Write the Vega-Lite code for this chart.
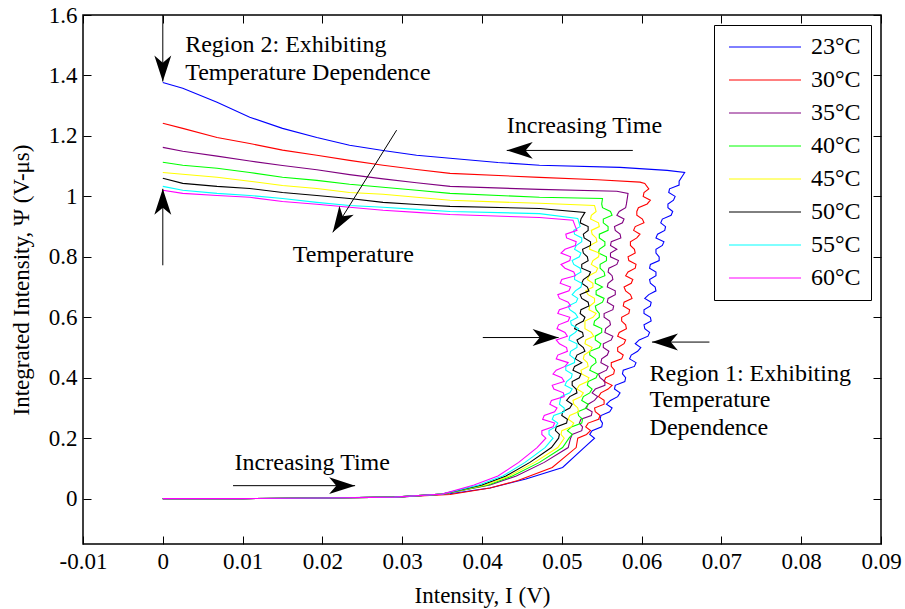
{
"$schema":"https://vega.github.io/schema/vega-lite/v6.json",
"width":798,"height":529,
"autosize":"none",
"padding":{"left":83,"top":15,"right":24,"bottom":65},
"background":"white",
"config":{"view":{"stroke":"black","strokeWidth":1.5},"font":"Liberation Serif"},
"datasets":{
"curves":[
{"t":"23°C","i":1,"x":0,"y":0},{"t":"23°C","i":2,"x":0.01,"y":0},{"t":"23°C","i":3,"x":0.02,"y":0.002},{"t":"23°C","i":4,"x":0.03,"y":0.006},{"t":"23°C","i":5,"x":0.036,"y":0.016},{"t":"23°C","i":6,"x":0.041,"y":0.035},{"t":"23°C","i":7,"x":0.0455,"y":0.065},{"t":"23°C","i":8,"x":0.0501,"y":0.103},{"t":"23°C","i":9,"x":0.0528,"y":0.169},
{"t":"23°C","i":10,"x":0.0541,"y":0.2},{"t":"23°C","i":10.5,"x":0.0535,"y":0.2125},{"t":"23°C","i":11,"x":0.0538,"y":0.225},{"t":"23°C","i":11.5,"x":0.055,"y":0.2375},{"t":"23°C","i":12,"x":0.0551,"y":0.25},{"t":"23°C","i":12.5,"x":0.0548,"y":0.2625},{"t":"23°C","i":13,"x":0.0549,"y":0.275},{"t":"23°C","i":13.5,"x":0.056,"y":0.2875},{"t":"23°C","i":14,"x":0.0563,"y":0.3},{"t":"23°C","i":14.5,"x":0.0556,"y":0.3125},{"t":"23°C","i":15,"x":0.0561,"y":0.325},{"t":"23°C","i":15.5,"x":0.057,"y":0.3375},{"t":"23°C","i":16,"x":0.0573,"y":0.35},{"t":"23°C","i":16.5,"x":0.0566,"y":0.3625},{"t":"23°C","i":17,"x":0.0567,"y":0.375},{"t":"23°C","i":17.5,"x":0.0579,"y":0.3875},{"t":"23°C","i":18,"x":0.058,"y":0.4},{"t":"23°C","i":18.5,"x":0.0576,"y":0.4125},{"t":"23°C","i":19,"x":0.0577,"y":0.425},{"t":"23°C","i":19.5,"x":0.0591,"y":0.4375},{"t":"23°C","i":20,"x":0.0593,"y":0.45},{"t":"23°C","i":20.5,"x":0.0585,"y":0.4625},{"t":"23°C","i":21,"x":0.0587,"y":0.475},{"t":"23°C","i":21.5,"x":0.0595,"y":0.4875},{"t":"23°C","i":22,"x":0.0599,"y":0.5},{"t":"23°C","i":22.5,"x":0.0592,"y":0.5125},{"t":"23°C","i":23,"x":0.0597,"y":0.525},{"t":"23°C","i":23.5,"x":0.0608,"y":0.5375},{"t":"23°C","i":24,"x":0.061,"y":0.55},{"t":"23°C","i":24.5,"x":0.0604,"y":0.5625},{"t":"23°C","i":25,"x":0.0603,"y":0.575},{"t":"23°C","i":25.5,"x":0.0612,"y":0.5875},{"t":"23°C","i":26,"x":0.0611,"y":0.6},{"t":"23°C","i":26.5,"x":0.0603,"y":0.6125},{"t":"23°C","i":27,"x":0.0603,"y":0.625},{"t":"23°C","i":27.5,"x":0.0611,"y":0.6375},{"t":"23°C","i":28,"x":0.0612,"y":0.65},{"t":"23°C","i":28.5,"x":0.0604,"y":0.6625},{"t":"23°C","i":29,"x":0.0609,"y":0.675},{"t":"23°C","i":29.5,"x":0.0618,"y":0.6875},{"t":"23°C","i":30,"x":0.0617,"y":0.7},{"t":"23°C","i":30.5,"x":0.0611,"y":0.7125},{"t":"23°C","i":31,"x":0.061,"y":0.725},{"t":"23°C","i":31.5,"x":0.0618,"y":0.7375},{"t":"23°C","i":32,"x":0.0618,"y":0.75},{"t":"23°C","i":32.5,"x":0.061,"y":0.7625},{"t":"23°C","i":33,"x":0.0611,"y":0.775},{"t":"23°C","i":33.5,"x":0.0622,"y":0.7875},{"t":"23°C","i":34,"x":0.0622,"y":0.8},{"t":"23°C","i":34.5,"x":0.0618,"y":0.8125},{"t":"23°C","i":35,"x":0.0618,"y":0.825},{"t":"23°C","i":35.5,"x":0.0626,"y":0.8375},{"t":"23°C","i":36,"x":0.0628,"y":0.85},{"t":"23°C","i":36.5,"x":0.0618,"y":0.8625},{"t":"23°C","i":37,"x":0.062,"y":0.875},{"t":"23°C","i":37.5,"x":0.0629,"y":0.8875},{"t":"23°C","i":38,"x":0.063,"y":0.9},{"t":"23°C","i":38.5,"x":0.0624,"y":0.9125},{"t":"23°C","i":39,"x":0.0626,"y":0.925},{"t":"23°C","i":39.5,"x":0.0637,"y":0.9375},{"t":"23°C","i":40,"x":0.0639,"y":0.95},{"t":"23°C","i":40.5,"x":0.0633,"y":0.9625},{"t":"23°C","i":41,"x":0.0633,"y":0.975},{"t":"23°C","i":41.5,"x":0.064,"y":0.9875},{"t":"23°C","i":42,"x":0.0642,"y":1.0},{"t":"23°C","i":42.5,"x":0.0634,"y":1.0125},{"t":"23°C","i":43,"x":0.0635,"y":1.025},{"t":"23°C","i":43.5,"x":0.0647,"y":1.0375},{"t":"23°C","i":44,"x":0.0647,"y":1.05},
{"t":"23°C","i":45,"x":0.0654,"y":1.079},{"t":"23°C","i":46,"x":0.0632,"y":1.086},{"t":"23°C","i":47,"x":0.0573,"y":1.096},{"t":"23°C","i":48,"x":0.0472,"y":1.103},{"t":"23°C","i":49,"x":0.042,"y":1.112},{"t":"23°C","i":50,"x":0.036,"y":1.126},{"t":"23°C","i":51,"x":0.0318,"y":1.136},{"t":"23°C","i":52,"x":0.0276,"y":1.152},{"t":"23°C","i":53,"x":0.0234,"y":1.169},{"t":"23°C","i":54,"x":0.0193,"y":1.195},{"t":"23°C","i":55,"x":0.015,"y":1.225},{"t":"23°C","i":56,"x":0.0109,"y":1.262},{"t":"23°C","i":57,"x":0.0068,"y":1.311},{"t":"23°C","i":58,"x":0.0025,"y":1.358},{"t":"23°C","i":59,"x":0,"y":1.377},
{"t":"30°C","i":1,"x":0,"y":0},{"t":"30°C","i":2,"x":0.01,"y":0},{"t":"30°C","i":3,"x":0.02,"y":0.002},{"t":"30°C","i":4,"x":0.029,"y":0.005},{"t":"30°C","i":5,"x":0.036,"y":0.014},{"t":"30°C","i":6,"x":0.041,"y":0.035},{"t":"30°C","i":7,"x":0.0445,"y":0.06},{"t":"30°C","i":8,"x":0.0488,"y":0.103},{"t":"30°C","i":9,"x":0.0518,"y":0.169},
{"t":"30°C","i":10,"x":0.052,"y":0.2},{"t":"30°C","i":10.5,"x":0.0531,"y":0.2125},{"t":"30°C","i":11,"x":0.0536,"y":0.225},{"t":"30°C","i":11.5,"x":0.053,"y":0.2375},{"t":"30°C","i":12,"x":0.0533,"y":0.25},{"t":"30°C","i":12.5,"x":0.0546,"y":0.2625},{"t":"30°C","i":13,"x":0.0548,"y":0.275},{"t":"30°C","i":13.5,"x":0.0542,"y":0.2875},{"t":"30°C","i":14,"x":0.0541,"y":0.3},{"t":"30°C","i":14.5,"x":0.0553,"y":0.3125},{"t":"30°C","i":15,"x":0.0553,"y":0.325},{"t":"30°C","i":15.5,"x":0.0546,"y":0.3375},{"t":"30°C","i":16,"x":0.0549,"y":0.35},{"t":"30°C","i":16.5,"x":0.0558,"y":0.3625},{"t":"30°C","i":17,"x":0.0563,"y":0.375},{"t":"30°C","i":17.5,"x":0.0553,"y":0.3875},{"t":"30°C","i":18,"x":0.0555,"y":0.4},{"t":"30°C","i":18.5,"x":0.0565,"y":0.4125},{"t":"30°C","i":19,"x":0.0566,"y":0.425},{"t":"30°C","i":19.5,"x":0.0562,"y":0.4375},{"t":"30°C","i":20,"x":0.0562,"y":0.45},{"t":"30°C","i":20.5,"x":0.0575,"y":0.4625},{"t":"30°C","i":21,"x":0.0577,"y":0.475},{"t":"30°C","i":21.5,"x":0.057,"y":0.4875},{"t":"30°C","i":22,"x":0.057,"y":0.5},{"t":"30°C","i":22.5,"x":0.0578,"y":0.5125},{"t":"30°C","i":23,"x":0.058,"y":0.525},{"t":"30°C","i":23.5,"x":0.057,"y":0.5375},{"t":"30°C","i":24,"x":0.0572,"y":0.55},{"t":"30°C","i":24.5,"x":0.0581,"y":0.5625},{"t":"30°C","i":25,"x":0.058,"y":0.575},{"t":"30°C","i":25.5,"x":0.0575,"y":0.5875},{"t":"30°C","i":26,"x":0.0575,"y":0.6},{"t":"30°C","i":26.5,"x":0.0584,"y":0.6125},{"t":"30°C","i":27,"x":0.0585,"y":0.625},{"t":"30°C","i":27.5,"x":0.0577,"y":0.6375},{"t":"30°C","i":28,"x":0.0578,"y":0.65},{"t":"30°C","i":28.5,"x":0.0588,"y":0.6625},{"t":"30°C","i":29,"x":0.0586,"y":0.675},{"t":"30°C","i":29.5,"x":0.058,"y":0.6875},{"t":"30°C","i":30,"x":0.0578,"y":0.7},{"t":"30°C","i":30.5,"x":0.0587,"y":0.7125},{"t":"30°C","i":31,"x":0.0589,"y":0.725},{"t":"30°C","i":31.5,"x":0.058,"y":0.7375},{"t":"30°C","i":32,"x":0.0583,"y":0.75},{"t":"30°C","i":32.5,"x":0.0592,"y":0.7625},{"t":"30°C","i":33,"x":0.0593,"y":0.775},{"t":"30°C","i":33.5,"x":0.0584,"y":0.7875},{"t":"30°C","i":34,"x":0.0583,"y":0.8},{"t":"30°C","i":34.5,"x":0.0592,"y":0.8125},{"t":"30°C","i":35,"x":0.0591,"y":0.825},{"t":"30°C","i":35.5,"x":0.0586,"y":0.8375},{"t":"30°C","i":36,"x":0.0586,"y":0.85},{"t":"30°C","i":36.5,"x":0.0594,"y":0.8625},{"t":"30°C","i":37,"x":0.0598,"y":0.875},{"t":"30°C","i":37.5,"x":0.059,"y":0.8875},{"t":"30°C","i":38,"x":0.0592,"y":0.9},{"t":"30°C","i":38.5,"x":0.0603,"y":0.9125},{"t":"30°C","i":39,"x":0.0601,"y":0.925},{"t":"30°C","i":39.5,"x":0.0594,"y":0.9375},{"t":"30°C","i":40,"x":0.0594,"y":0.95},{"t":"30°C","i":40.5,"x":0.0596,"y":0.9625},{"t":"30°C","i":41,"x":0.0607,"y":0.975},{"t":"30°C","i":41.5,"x":0.0611,"y":0.9875},{"t":"30°C","i":42,"x":0.0602,"y":1.0},{"t":"30°C","i":42.5,"x":0.0603,"y":1.0125},{"t":"30°C","i":43,"x":0.0609,"y":1.025},
{"t":"30°C","i":44,"x":0.0604,"y":1.043},{"t":"30°C","i":45,"x":0.0598,"y":1.047},{"t":"30°C","i":46,"x":0.0545,"y":1.055},{"t":"30°C","i":47,"x":0.0472,"y":1.063},{"t":"30°C","i":48,"x":0.036,"y":1.076},{"t":"30°C","i":49,"x":0.0318,"y":1.089},{"t":"30°C","i":50,"x":0.0276,"y":1.103},{"t":"30°C","i":51,"x":0.0234,"y":1.119},{"t":"30°C","i":52,"x":0.0193,"y":1.136},{"t":"30°C","i":53,"x":0.015,"y":1.153},{"t":"30°C","i":54,"x":0.0109,"y":1.175},{"t":"30°C","i":55,"x":0.0068,"y":1.195},{"t":"30°C","i":56,"x":0.0025,"y":1.225},{"t":"30°C","i":57,"x":0,"y":1.242},
{"t":"35°C","i":1,"x":0,"y":0},{"t":"35°C","i":2,"x":0.01,"y":0},{"t":"35°C","i":3,"x":0.02,"y":0.002},{"t":"35°C","i":4,"x":0.029,"y":0.005},{"t":"35°C","i":5,"x":0.035,"y":0.015},{"t":"35°C","i":6,"x":0.041,"y":0.045},{"t":"35°C","i":7,"x":0.0443,"y":0.075},{"t":"35°C","i":8,"x":0.0478,"y":0.12},{"t":"35°C","i":9,"x":0.0508,"y":0.169},
{"t":"35°C","i":10,"x":0.0511,"y":0.2},{"t":"35°C","i":10.5,"x":0.0513,"y":0.2125},{"t":"35°C","i":11,"x":0.0525,"y":0.225},{"t":"35°C","i":11.5,"x":0.0526,"y":0.2375},{"t":"35°C","i":12,"x":0.0522,"y":0.25},{"t":"35°C","i":12.5,"x":0.0524,"y":0.2625},{"t":"35°C","i":13,"x":0.0537,"y":0.275},{"t":"35°C","i":13.5,"x":0.0538,"y":0.2875},{"t":"35°C","i":14,"x":0.053,"y":0.3},{"t":"35°C","i":14.5,"x":0.0533,"y":0.3125},{"t":"35°C","i":15,"x":0.0541,"y":0.325},{"t":"35°C","i":15.5,"x":0.0545,"y":0.3375},{"t":"35°C","i":16,"x":0.0538,"y":0.35},{"t":"35°C","i":16.5,"x":0.0542,"y":0.3625},{"t":"35°C","i":17,"x":0.0554,"y":0.375},{"t":"35°C","i":17.5,"x":0.0554,"y":0.3875},{"t":"35°C","i":18,"x":0.0548,"y":0.4},{"t":"35°C","i":18.5,"x":0.0546,"y":0.4125},{"t":"35°C","i":19,"x":0.0556,"y":0.425},{"t":"35°C","i":19.5,"x":0.0558,"y":0.4375},{"t":"35°C","i":20,"x":0.0549,"y":0.45},{"t":"35°C","i":20.5,"x":0.055,"y":0.4625},{"t":"35°C","i":21,"x":0.0557,"y":0.475},{"t":"35°C","i":21.5,"x":0.0559,"y":0.4875},{"t":"35°C","i":22,"x":0.0552,"y":0.5},{"t":"35°C","i":22.5,"x":0.0552,"y":0.5125},{"t":"35°C","i":23,"x":0.0562,"y":0.525},{"t":"35°C","i":23.5,"x":0.0564,"y":0.5375},{"t":"35°C","i":24,"x":0.0554,"y":0.55},{"t":"35°C","i":24.5,"x":0.0555,"y":0.5625},{"t":"35°C","i":25,"x":0.0561,"y":0.575},{"t":"35°C","i":25.5,"x":0.056,"y":0.5875},{"t":"35°C","i":26,"x":0.0553,"y":0.6},{"t":"35°C","i":26.5,"x":0.0553,"y":0.6125},{"t":"35°C","i":27,"x":0.0564,"y":0.625},{"t":"35°C","i":27.5,"x":0.0565,"y":0.6375},{"t":"35°C","i":28,"x":0.0557,"y":0.65},{"t":"35°C","i":28.5,"x":0.0558,"y":0.6625},{"t":"35°C","i":29,"x":0.0567,"y":0.675},{"t":"35°C","i":29.5,"x":0.0567,"y":0.6875},{"t":"35°C","i":30,"x":0.0557,"y":0.7},{"t":"35°C","i":30.5,"x":0.0558,"y":0.7125},{"t":"35°C","i":31,"x":0.0564,"y":0.725},{"t":"35°C","i":31.5,"x":0.0563,"y":0.7375},{"t":"35°C","i":32,"x":0.0558,"y":0.75},{"t":"35°C","i":32.5,"x":0.0559,"y":0.7625},{"t":"35°C","i":33,"x":0.0569,"y":0.775},{"t":"35°C","i":33.5,"x":0.0571,"y":0.7875},{"t":"35°C","i":34,"x":0.0561,"y":0.8},{"t":"35°C","i":34.5,"x":0.0561,"y":0.8125},{"t":"35°C","i":35,"x":0.0569,"y":0.825},{"t":"35°C","i":35.5,"x":0.0561,"y":0.8375},{"t":"35°C","i":36,"x":0.0562,"y":0.85},{"t":"35°C","i":36.5,"x":0.0574,"y":0.8625},{"t":"35°C","i":37,"x":0.0573,"y":0.875},{"t":"35°C","i":37.5,"x":0.0567,"y":0.8875},{"t":"35°C","i":38,"x":0.0566,"y":0.9},{"t":"35°C","i":38.5,"x":0.0576,"y":0.9125},{"t":"35°C","i":39,"x":0.0578,"y":0.925},{"t":"35°C","i":39.5,"x":0.0569,"y":0.9375},{"t":"35°C","i":40,"x":0.0572,"y":0.95},{"t":"35°C","i":40.5,"x":0.058,"y":0.9625},{"t":"35°C","i":41,"x":0.0581,"y":0.975},
{"t":"35°C","i":42,"x":0.0583,"y":1.01},{"t":"35°C","i":43,"x":0.0569,"y":1.017},{"t":"35°C","i":44,"x":0.0472,"y":1.023},{"t":"35°C","i":45,"x":0.036,"y":1.033},{"t":"35°C","i":46,"x":0.0318,"y":1.045},{"t":"35°C","i":47,"x":0.0276,"y":1.058},{"t":"35°C","i":48,"x":0.0234,"y":1.072},{"t":"35°C","i":49,"x":0.0193,"y":1.088},{"t":"35°C","i":50,"x":0.015,"y":1.102},{"t":"35°C","i":51,"x":0.0109,"y":1.117},{"t":"35°C","i":52,"x":0.0068,"y":1.133},{"t":"35°C","i":53,"x":0.0025,"y":1.149},{"t":"35°C","i":54,"x":0,"y":1.162},
{"t":"40°C","i":1,"x":0,"y":0},{"t":"40°C","i":2,"x":0.01,"y":0},{"t":"40°C","i":3,"x":0.02,"y":0.002},{"t":"40°C","i":4,"x":0.029,"y":0.005},{"t":"40°C","i":5,"x":0.035,"y":0.015},{"t":"40°C","i":6,"x":0.0408,"y":0.045},{"t":"40°C","i":7,"x":0.0438,"y":0.075},{"t":"40°C","i":8,"x":0.0472,"y":0.12},{"t":"40°C","i":9,"x":0.0501,"y":0.169},
{"t":"40°C","i":10,"x":0.0509,"y":0.2},{"t":"40°C","i":10.5,"x":0.0513,"y":0.2125},{"t":"40°C","i":11,"x":0.0507,"y":0.225},{"t":"40°C","i":11.5,"x":0.0512,"y":0.2375},{"t":"40°C","i":12,"x":0.0525,"y":0.25},{"t":"40°C","i":12.5,"x":0.0526,"y":0.2625},{"t":"40°C","i":13,"x":0.0521,"y":0.275},{"t":"40°C","i":13.5,"x":0.052,"y":0.2875},{"t":"40°C","i":14,"x":0.0531,"y":0.3},{"t":"40°C","i":14.5,"x":0.0533,"y":0.3125},{"t":"40°C","i":15,"x":0.0525,"y":0.325},{"t":"40°C","i":15.5,"x":0.0527,"y":0.3375},{"t":"40°C","i":16,"x":0.0535,"y":0.35},{"t":"40°C","i":16.5,"x":0.0538,"y":0.3625},{"t":"40°C","i":17,"x":0.0532,"y":0.375},{"t":"40°C","i":17.5,"x":0.0533,"y":0.3875},{"t":"40°C","i":18,"x":0.0543,"y":0.4},{"t":"40°C","i":18.5,"x":0.0545,"y":0.4125},{"t":"40°C","i":19,"x":0.0535,"y":0.425},{"t":"40°C","i":19.5,"x":0.0537,"y":0.4375},{"t":"40°C","i":20,"x":0.0543,"y":0.45},{"t":"40°C","i":20.5,"x":0.0542,"y":0.4625},{"t":"40°C","i":21,"x":0.0535,"y":0.475},{"t":"40°C","i":21.5,"x":0.0535,"y":0.4875},{"t":"40°C","i":22,"x":0.0547,"y":0.5},{"t":"40°C","i":22.5,"x":0.0549,"y":0.5125},{"t":"40°C","i":23,"x":0.0542,"y":0.525},{"t":"40°C","i":23.5,"x":0.0542,"y":0.5375},{"t":"40°C","i":24,"x":0.055,"y":0.55},{"t":"40°C","i":24.5,"x":0.055,"y":0.5625},{"t":"40°C","i":25,"x":0.054,"y":0.575},{"t":"40°C","i":25.5,"x":0.0541,"y":0.5875},{"t":"40°C","i":26,"x":0.0547,"y":0.6},{"t":"40°C","i":26.5,"x":0.0547,"y":0.6125},{"t":"40°C","i":27,"x":0.0543,"y":0.625},{"t":"40°C","i":27.5,"x":0.0542,"y":0.6375},{"t":"40°C","i":28,"x":0.0551,"y":0.65},{"t":"40°C","i":28.5,"x":0.0553,"y":0.6625},{"t":"40°C","i":29,"x":0.0543,"y":0.675},{"t":"40°C","i":29.5,"x":0.0543,"y":0.6875},{"t":"40°C","i":30,"x":0.0551,"y":0.7},{"t":"40°C","i":30.5,"x":0.0542,"y":0.7125},{"t":"40°C","i":31,"x":0.0542,"y":0.725},{"t":"40°C","i":31.5,"x":0.0554,"y":0.7375},{"t":"40°C","i":32,"x":0.0553,"y":0.75},{"t":"40°C","i":32.5,"x":0.0548,"y":0.7625},{"t":"40°C","i":33,"x":0.0548,"y":0.775},{"t":"40°C","i":33.5,"x":0.0556,"y":0.7875},{"t":"40°C","i":34,"x":0.0556,"y":0.8},{"t":"40°C","i":34.5,"x":0.0546,"y":0.8125},{"t":"40°C","i":35,"x":0.0547,"y":0.825},{"t":"40°C","i":35.5,"x":0.0554,"y":0.8375},{"t":"40°C","i":36,"x":0.0554,"y":0.85},{"t":"40°C","i":36.5,"x":0.0547,"y":0.8625},{"t":"40°C","i":37,"x":0.0547,"y":0.875},{"t":"40°C","i":37.5,"x":0.0558,"y":0.8875},{"t":"40°C","i":38,"x":0.0558,"y":0.9},{"t":"40°C","i":38.5,"x":0.0552,"y":0.9125},{"t":"40°C","i":39,"x":0.0552,"y":0.925},{"t":"40°C","i":39.5,"x":0.0563,"y":0.9375},{"t":"40°C","i":40,"x":0.0561,"y":0.95},{"t":"40°C","i":40.5,"x":0.0551,"y":0.9625},{"t":"40°C","i":41,"x":0.055,"y":0.975},
{"t":"40°C","i":42,"x":0.0551,"y":0.993},{"t":"40°C","i":43,"x":0.0472,"y":0.997},{"t":"40°C","i":44,"x":0.036,"y":1.01},{"t":"40°C","i":45,"x":0.0318,"y":1.02},{"t":"40°C","i":46,"x":0.0276,"y":1.03},{"t":"40°C","i":47,"x":0.0234,"y":1.04},{"t":"40°C","i":48,"x":0.0193,"y":1.053},{"t":"40°C","i":49,"x":0.015,"y":1.063},{"t":"40°C","i":50,"x":0.0109,"y":1.079},{"t":"40°C","i":51,"x":0.0068,"y":1.093},{"t":"40°C","i":52,"x":0.0025,"y":1.103},{"t":"40°C","i":53,"x":0,"y":1.113},
{"t":"45°C","i":1,"x":0,"y":0},{"t":"45°C","i":2,"x":0.01,"y":0},{"t":"45°C","i":3,"x":0.02,"y":0.002},{"t":"45°C","i":4,"x":0.029,"y":0.005},{"t":"45°C","i":5,"x":0.035,"y":0.015},{"t":"45°C","i":6,"x":0.0404,"y":0.045},{"t":"45°C","i":7,"x":0.0434,"y":0.075},{"t":"45°C","i":8,"x":0.0466,"y":0.12},{"t":"45°C","i":9,"x":0.0495,"y":0.169},
{"t":"45°C","i":10,"x":0.0503,"y":0.2},{"t":"45°C","i":10.5,"x":0.0499,"y":0.2125},{"t":"45°C","i":11,"x":0.05,"y":0.225},{"t":"45°C","i":11.5,"x":0.0512,"y":0.2375},{"t":"45°C","i":12,"x":0.0515,"y":0.25},{"t":"45°C","i":12.5,"x":0.0508,"y":0.2625},{"t":"45°C","i":13,"x":0.051,"y":0.275},{"t":"45°C","i":13.5,"x":0.0521,"y":0.2875},{"t":"45°C","i":14,"x":0.052,"y":0.3},{"t":"45°C","i":14.5,"x":0.0515,"y":0.3125},{"t":"45°C","i":15,"x":0.0514,"y":0.325},{"t":"45°C","i":15.5,"x":0.0524,"y":0.3375},{"t":"45°C","i":16,"x":0.0527,"y":0.35},{"t":"45°C","i":16.5,"x":0.0519,"y":0.3625},{"t":"45°C","i":17,"x":0.0522,"y":0.375},{"t":"45°C","i":17.5,"x":0.0532,"y":0.3875},{"t":"45°C","i":18,"x":0.0534,"y":0.4},{"t":"45°C","i":18.5,"x":0.0525,"y":0.4125},{"t":"45°C","i":19,"x":0.0524,"y":0.425},{"t":"45°C","i":19.5,"x":0.0533,"y":0.4375},{"t":"45°C","i":20,"x":0.0532,"y":0.45},{"t":"45°C","i":20.5,"x":0.0527,"y":0.4625},{"t":"45°C","i":21,"x":0.0528,"y":0.475},{"t":"45°C","i":21.5,"x":0.0535,"y":0.4875},{"t":"45°C","i":22,"x":0.0538,"y":0.5},{"t":"45°C","i":22.5,"x":0.0529,"y":0.5125},{"t":"45°C","i":23,"x":0.053,"y":0.525},{"t":"45°C","i":23.5,"x":0.054,"y":0.5375},{"t":"45°C","i":24,"x":0.0537,"y":0.55},{"t":"45°C","i":24.5,"x":0.0529,"y":0.5625},{"t":"45°C","i":25,"x":0.0529,"y":0.575},{"t":"45°C","i":25.5,"x":0.0529,"y":0.5875},{"t":"45°C","i":26,"x":0.0539,"y":0.6},{"t":"45°C","i":26.5,"x":0.0543,"y":0.6125},{"t":"45°C","i":27,"x":0.0534,"y":0.625},{"t":"45°C","i":27.5,"x":0.0535,"y":0.6375},{"t":"45°C","i":28,"x":0.0541,"y":0.65},{"t":"45°C","i":28.5,"x":0.0541,"y":0.6625},{"t":"45°C","i":29,"x":0.0533,"y":0.675},{"t":"45°C","i":29.5,"x":0.053,"y":0.6875},{"t":"45°C","i":30,"x":0.0539,"y":0.7},{"t":"45°C","i":30.5,"x":0.0539,"y":0.7125},{"t":"45°C","i":31,"x":0.0532,"y":0.725},{"t":"45°C","i":31.5,"x":0.0534,"y":0.7375},{"t":"45°C","i":32,"x":0.0543,"y":0.75},{"t":"45°C","i":32.5,"x":0.0545,"y":0.7625},{"t":"45°C","i":33,"x":0.0537,"y":0.775},{"t":"45°C","i":33.5,"x":0.0539,"y":0.7875},{"t":"45°C","i":34,"x":0.0546,"y":0.8},{"t":"45°C","i":34.5,"x":0.0547,"y":0.8125},{"t":"45°C","i":35,"x":0.0535,"y":0.825},{"t":"45°C","i":35.5,"x":0.0535,"y":0.8375},{"t":"45°C","i":36,"x":0.0544,"y":0.85},{"t":"45°C","i":36.5,"x":0.0543,"y":0.8625},{"t":"45°C","i":37,"x":0.0538,"y":0.875},{"t":"45°C","i":37.5,"x":0.0537,"y":0.8875},{"t":"45°C","i":38,"x":0.0547,"y":0.9},{"t":"45°C","i":38.5,"x":0.0546,"y":0.9125},{"t":"45°C","i":39,"x":0.0536,"y":0.925},{"t":"45°C","i":39.5,"x":0.0537,"y":0.9375},{"t":"45°C","i":40,"x":0.0543,"y":0.95},
{"t":"45°C","i":41,"x":0.0541,"y":0.97},{"t":"45°C","i":42,"x":0.0472,"y":0.977},{"t":"45°C","i":43,"x":0.036,"y":0.987},{"t":"45°C","i":44,"x":0.0318,"y":0.997},{"t":"45°C","i":45,"x":0.0276,"y":1.007},{"t":"45°C","i":46,"x":0.0234,"y":1.013},{"t":"45°C","i":47,"x":0.0193,"y":1.026},{"t":"45°C","i":48,"x":0.015,"y":1.036},{"t":"45°C","i":49,"x":0.0109,"y":1.05},{"t":"45°C","i":50,"x":0.0068,"y":1.063},{"t":"45°C","i":51,"x":0.0025,"y":1.073},{"t":"45°C","i":52,"x":0,"y":1.079},
{"t":"50°C","i":1,"x":0,"y":0},{"t":"50°C","i":2,"x":0.01,"y":0},{"t":"50°C","i":3,"x":0.02,"y":0.002},{"t":"50°C","i":4,"x":0.029,"y":0.005},{"t":"50°C","i":5,"x":0.035,"y":0.015},{"t":"50°C","i":6,"x":0.04,"y":0.045},{"t":"50°C","i":7,"x":0.043,"y":0.075},{"t":"50°C","i":8,"x":0.046,"y":0.12},{"t":"50°C","i":9,"x":0.0487,"y":0.169},
{"t":"50°C","i":10,"x":0.0496,"y":0.2},{"t":"50°C","i":10.5,"x":0.0497,"y":0.2125},{"t":"50°C","i":11,"x":0.0492,"y":0.225},{"t":"50°C","i":11.5,"x":0.0493,"y":0.2375},{"t":"50°C","i":12,"x":0.0506,"y":0.25},{"t":"50°C","i":12.5,"x":0.0507,"y":0.2625},{"t":"50°C","i":13,"x":0.05,"y":0.275},{"t":"50°C","i":13.5,"x":0.0501,"y":0.2875},{"t":"50°C","i":14,"x":0.051,"y":0.3},{"t":"50°C","i":14.5,"x":0.0513,"y":0.3125},{"t":"50°C","i":15,"x":0.0506,"y":0.325},{"t":"50°C","i":15.5,"x":0.051,"y":0.3375},{"t":"50°C","i":16,"x":0.0519,"y":0.35},{"t":"50°C","i":16.5,"x":0.0518,"y":0.3625},{"t":"50°C","i":17,"x":0.0513,"y":0.375},{"t":"50°C","i":17.5,"x":0.0513,"y":0.3875},{"t":"50°C","i":18,"x":0.0522,"y":0.4},{"t":"50°C","i":18.5,"x":0.0524,"y":0.4125},{"t":"50°C","i":19,"x":0.0514,"y":0.425},{"t":"50°C","i":19.5,"x":0.0516,"y":0.4375},{"t":"50°C","i":20,"x":0.0525,"y":0.45},{"t":"50°C","i":20.5,"x":0.0517,"y":0.4625},{"t":"50°C","i":21,"x":0.0519,"y":0.475},{"t":"50°C","i":21.5,"x":0.0529,"y":0.4875},{"t":"50°C","i":22,"x":0.0527,"y":0.5},{"t":"50°C","i":22.5,"x":0.0521,"y":0.5125},{"t":"50°C","i":23,"x":0.0519,"y":0.525},{"t":"50°C","i":23.5,"x":0.0527,"y":0.5375},{"t":"50°C","i":24,"x":0.0526,"y":0.55},{"t":"50°C","i":24.5,"x":0.0516,"y":0.5625},{"t":"50°C","i":25,"x":0.0518,"y":0.575},{"t":"50°C","i":25.5,"x":0.0527,"y":0.5875},{"t":"50°C","i":26,"x":0.0529,"y":0.6},{"t":"50°C","i":26.5,"x":0.0523,"y":0.6125},{"t":"50°C","i":27,"x":0.0524,"y":0.625},{"t":"50°C","i":27.5,"x":0.0534,"y":0.6375},{"t":"50°C","i":28,"x":0.0533,"y":0.65},{"t":"50°C","i":28.5,"x":0.0525,"y":0.6625},{"t":"50°C","i":29,"x":0.0523,"y":0.675},{"t":"50°C","i":29.5,"x":0.0534,"y":0.6875},{"t":"50°C","i":30,"x":0.0532,"y":0.7},{"t":"50°C","i":30.5,"x":0.0525,"y":0.7125},{"t":"50°C","i":31,"x":0.0527,"y":0.725},{"t":"50°C","i":31.5,"x":0.0534,"y":0.7375},{"t":"50°C","i":32,"x":0.0536,"y":0.75},{"t":"50°C","i":32.5,"x":0.0525,"y":0.7625},{"t":"50°C","i":33,"x":0.0525,"y":0.775},{"t":"50°C","i":33.5,"x":0.0533,"y":0.7875},{"t":"50°C","i":34,"x":0.0532,"y":0.8},{"t":"50°C","i":34.5,"x":0.0527,"y":0.8125},{"t":"50°C","i":35,"x":0.0526,"y":0.825},{"t":"50°C","i":35.5,"x":0.0536,"y":0.8375},{"t":"50°C","i":36,"x":0.0536,"y":0.85},{"t":"50°C","i":36.5,"x":0.0528,"y":0.8625},{"t":"50°C","i":37,"x":0.0527,"y":0.875},{"t":"50°C","i":37.5,"x":0.0533,"y":0.8875},{"t":"50°C","i":38,"x":0.0533,"y":0.9},{"t":"50°C","i":38.5,"x":0.0523,"y":0.9125},{"t":"50°C","i":39,"x":0.0524,"y":0.925},
{"t":"50°C","i":40,"x":0.0529,"y":0.947},{"t":"50°C","i":41,"x":0.0472,"y":0.96},{"t":"50°C","i":42,"x":0.036,"y":0.967},{"t":"50°C","i":43,"x":0.0318,"y":0.973},{"t":"50°C","i":44,"x":0.0276,"y":0.98},{"t":"50°C","i":45,"x":0.0234,"y":0.993},{"t":"50°C","i":46,"x":0.0193,"y":1.003},{"t":"50°C","i":47,"x":0.015,"y":1.013},{"t":"50°C","i":48,"x":0.0109,"y":1.026},{"t":"50°C","i":49,"x":0.0068,"y":1.033},{"t":"50°C","i":50,"x":0.0025,"y":1.043},{"t":"50°C","i":51,"x":0,"y":1.06},
{"t":"55°C","i":1,"x":0,"y":0},{"t":"55°C","i":2,"x":0.01,"y":0},{"t":"55°C","i":3,"x":0.02,"y":0.002},{"t":"55°C","i":4,"x":0.029,"y":0.005},{"t":"55°C","i":5,"x":0.035,"y":0.015},{"t":"55°C","i":6,"x":0.0396,"y":0.045},{"t":"55°C","i":7,"x":0.0426,"y":0.075},{"t":"55°C","i":8,"x":0.0454,"y":0.12},{"t":"55°C","i":9,"x":0.0479,"y":0.169},
{"t":"55°C","i":10,"x":0.0489,"y":0.2},{"t":"55°C","i":10.5,"x":0.0484,"y":0.2125},{"t":"55°C","i":11,"x":0.0484,"y":0.225},{"t":"55°C","i":11.5,"x":0.0492,"y":0.2375},{"t":"55°C","i":12,"x":0.0495,"y":0.25},{"t":"55°C","i":12.5,"x":0.0488,"y":0.2625},{"t":"55°C","i":13,"x":0.049,"y":0.275},{"t":"55°C","i":13.5,"x":0.0503,"y":0.2875},{"t":"55°C","i":14,"x":0.0503,"y":0.3},{"t":"55°C","i":14.5,"x":0.0497,"y":0.3125},{"t":"55°C","i":15,"x":0.0498,"y":0.325},{"t":"55°C","i":15.5,"x":0.0499,"y":0.3375},{"t":"55°C","i":16,"x":0.051,"y":0.35},{"t":"55°C","i":16.5,"x":0.0513,"y":0.3625},{"t":"55°C","i":17,"x":0.0504,"y":0.375},{"t":"55°C","i":17.5,"x":0.0506,"y":0.3875},{"t":"55°C","i":18,"x":0.0512,"y":0.4},{"t":"55°C","i":18.5,"x":0.0513,"y":0.4125},{"t":"55°C","i":19,"x":0.0505,"y":0.425},{"t":"55°C","i":19.5,"x":0.0505,"y":0.4375},{"t":"55°C","i":20,"x":0.0516,"y":0.45},{"t":"55°C","i":20.5,"x":0.0516,"y":0.4625},{"t":"55°C","i":21,"x":0.051,"y":0.475},{"t":"55°C","i":21.5,"x":0.0511,"y":0.4875},{"t":"55°C","i":22,"x":0.0519,"y":0.5},{"t":"55°C","i":22.5,"x":0.0519,"y":0.5125},{"t":"55°C","i":23,"x":0.0509,"y":0.525},{"t":"55°C","i":23.5,"x":0.051,"y":0.5375},{"t":"55°C","i":24,"x":0.0517,"y":0.55},{"t":"55°C","i":24.5,"x":0.0521,"y":0.5625},{"t":"55°C","i":25,"x":0.0512,"y":0.575},{"t":"55°C","i":25.5,"x":0.0511,"y":0.5875},{"t":"55°C","i":26,"x":0.052,"y":0.6},{"t":"55°C","i":26.5,"x":0.0517,"y":0.6125},{"t":"55°C","i":27,"x":0.051,"y":0.625},{"t":"55°C","i":27.5,"x":0.0508,"y":0.6375},{"t":"55°C","i":28,"x":0.0518,"y":0.65},{"t":"55°C","i":28.5,"x":0.052,"y":0.6625},{"t":"55°C","i":29,"x":0.0513,"y":0.675},{"t":"55°C","i":29.5,"x":0.0517,"y":0.6875},{"t":"55°C","i":30,"x":0.0524,"y":0.7},{"t":"55°C","i":30.5,"x":0.0525,"y":0.7125},{"t":"55°C","i":31,"x":0.0516,"y":0.725},{"t":"55°C","i":31.5,"x":0.0516,"y":0.7375},{"t":"55°C","i":32,"x":0.0524,"y":0.75},{"t":"55°C","i":32.5,"x":0.0523,"y":0.7625},{"t":"55°C","i":33,"x":0.0515,"y":0.775},{"t":"55°C","i":33.5,"x":0.0513,"y":0.7875},{"t":"55°C","i":34,"x":0.0522,"y":0.8},{"t":"55°C","i":34.5,"x":0.0524,"y":0.8125},{"t":"55°C","i":35,"x":0.0516,"y":0.825},{"t":"55°C","i":35.5,"x":0.0518,"y":0.8375},{"t":"55°C","i":36,"x":0.0525,"y":0.85},{"t":"55°C","i":36.5,"x":0.0525,"y":0.8625},{"t":"55°C","i":37,"x":0.0516,"y":0.875},{"t":"55°C","i":37.5,"x":0.0515,"y":0.8875},{"t":"55°C","i":38,"x":0.0523,"y":0.9},
{"t":"55°C","i":39,"x":0.052,"y":0.927},{"t":"55°C","i":40,"x":0.0472,"y":0.943},{"t":"55°C","i":41,"x":0.036,"y":0.95},{"t":"55°C","i":42,"x":0.0318,"y":0.957},{"t":"55°C","i":43,"x":0.0276,"y":0.964},{"t":"55°C","i":44,"x":0.0234,"y":0.97},{"t":"55°C","i":45,"x":0.0193,"y":0.98},{"t":"55°C","i":46,"x":0.015,"y":0.993},{"t":"55°C","i":47,"x":0.0109,"y":1.003},{"t":"55°C","i":48,"x":0.0068,"y":1.01},{"t":"55°C","i":49,"x":0.0025,"y":1.02},{"t":"55°C","i":50,"x":0,"y":1.033},
{"t":"60°C","i":1,"x":0,"y":0},{"t":"60°C","i":2,"x":0.01,"y":0},{"t":"60°C","i":3,"x":0.02,"y":0.002},{"t":"60°C","i":4,"x":0.029,"y":0.005},{"t":"60°C","i":5,"x":0.035,"y":0.015},{"t":"60°C","i":6,"x":0.039,"y":0.045},{"t":"60°C","i":7,"x":0.042,"y":0.075},{"t":"60°C","i":8,"x":0.0446,"y":0.12},{"t":"60°C","i":9,"x":0.0469,"y":0.169},
{"t":"60°C","i":10,"x":0.048,"y":0.2},{"t":"60°C","i":10.5,"x":0.0475,"y":0.2125},{"t":"60°C","i":11,"x":0.0475,"y":0.225},{"t":"60°C","i":11.5,"x":0.0489,"y":0.2375},{"t":"60°C","i":12,"x":0.0491,"y":0.25},{"t":"60°C","i":12.5,"x":0.0476,"y":0.2625},{"t":"60°C","i":13,"x":0.0478,"y":0.275},{"t":"60°C","i":13.5,"x":0.0491,"y":0.2875},{"t":"60°C","i":14,"x":0.0494,"y":0.3},{"t":"60°C","i":14.5,"x":0.0485,"y":0.3125},{"t":"60°C","i":15,"x":0.0487,"y":0.325},{"t":"60°C","i":15.5,"x":0.0503,"y":0.3375},{"t":"60°C","i":16,"x":0.0502,"y":0.35},{"t":"60°C","i":16.5,"x":0.049,"y":0.3625},{"t":"60°C","i":17,"x":0.0488,"y":0.375},{"t":"60°C","i":17.5,"x":0.0503,"y":0.3875},{"t":"60°C","i":18,"x":0.05,"y":0.4},{"t":"60°C","i":18.5,"x":0.0489,"y":0.4125},{"t":"60°C","i":19,"x":0.0493,"y":0.425},{"t":"60°C","i":19.5,"x":0.0504,"y":0.4375},{"t":"60°C","i":20,"x":0.0508,"y":0.45},{"t":"60°C","i":20.5,"x":0.0493,"y":0.4625},{"t":"60°C","i":21,"x":0.0495,"y":0.475},{"t":"60°C","i":21.5,"x":0.0507,"y":0.4875},{"t":"60°C","i":22,"x":0.0506,"y":0.5},{"t":"60°C","i":22.5,"x":0.0497,"y":0.5125},{"t":"60°C","i":23,"x":0.0493,"y":0.525},{"t":"60°C","i":23.5,"x":0.0507,"y":0.5375},{"t":"60°C","i":24,"x":0.0504,"y":0.55},{"t":"60°C","i":24.5,"x":0.0494,"y":0.5625},{"t":"60°C","i":25,"x":0.0496,"y":0.575},{"t":"60°C","i":25.5,"x":0.0508,"y":0.5875},{"t":"60°C","i":26,"x":0.051,"y":0.6},{"t":"60°C","i":26.5,"x":0.0495,"y":0.6125},{"t":"60°C","i":27,"x":0.0497,"y":0.625},{"t":"60°C","i":27.5,"x":0.0511,"y":0.6375},{"t":"60°C","i":28,"x":0.0508,"y":0.65},{"t":"60°C","i":28.5,"x":0.0497,"y":0.6625},{"t":"60°C","i":29,"x":0.0495,"y":0.675},{"t":"60°C","i":29.5,"x":0.0509,"y":0.6875},{"t":"60°C","i":30,"x":0.0511,"y":0.7},{"t":"60°C","i":30.5,"x":0.0498,"y":0.7125},{"t":"60°C","i":31,"x":0.05,"y":0.725},{"t":"60°C","i":31.5,"x":0.0517,"y":0.7375},{"t":"60°C","i":32,"x":0.0515,"y":0.75},{"t":"60°C","i":32.5,"x":0.0504,"y":0.7625},{"t":"60°C","i":33,"x":0.0499,"y":0.775},{"t":"60°C","i":33.5,"x":0.051,"y":0.7875},{"t":"60°C","i":34,"x":0.0511,"y":0.8},{"t":"60°C","i":34.5,"x":0.0499,"y":0.8125},{"t":"60°C","i":35,"x":0.0504,"y":0.825},{"t":"60°C","i":35.5,"x":0.0517,"y":0.8375},{"t":"60°C","i":36,"x":0.0518,"y":0.85},{"t":"60°C","i":36.5,"x":0.0506,"y":0.8625},{"t":"60°C","i":37,"x":0.0505,"y":0.875},{"t":"60°C","i":37.5,"x":0.0519,"y":0.8875},{"t":"60°C","i":38,"x":0.0517,"y":0.9},
{"t":"60°C","i":39,"x":0.0514,"y":0.921},{"t":"60°C","i":40,"x":0.0472,"y":0.93},{"t":"60°C","i":41,"x":0.036,"y":0.94},{"t":"60°C","i":42,"x":0.0318,"y":0.947},{"t":"60°C","i":43,"x":0.0276,"y":0.954},{"t":"60°C","i":44,"x":0.0234,"y":0.964},{"t":"60°C","i":45,"x":0.0193,"y":0.974},{"t":"60°C","i":46,"x":0.015,"y":0.983},{"t":"60°C","i":47,"x":0.0109,"y":0.997},{"t":"60°C","i":48,"x":0.0068,"y":1.003},{"t":"60°C","i":49,"x":0.0025,"y":1.01},{"t":"60°C","i":50,"x":0,"y":1.02}
],
"arrows":[
{"x":0,"y":1.6,"x2":0,"y2":1.38,"dir":"down"},
{"x":0,"y":0.772,"x2":0,"y2":1.025,"dir":"up"},
{"x":0.0589,"y":1.152,"x2":0.0431,"y2":1.152,"dir":"left"},
{"x":0.0293,"y":1.219,"x2":0.0213,"y2":0.881,"dir":"diag"},
{"x":0.0401,"y":0.533,"x2":0.0496,"y2":0.533,"dir":"right"},
{"x":0.0685,"y":0.518,"x2":0.0613,"y2":0.518,"dir":"left"},
{"x":0.0088,"y":0.043,"x2":0.0241,"y2":0.043,"dir":"right"}
],
"labels":[
{"x":0.0028,"y":1.5,"text":"Region 2: Exhibiting"},
{"x":0.0028,"y":1.407,"text":"Temperature Dependence"},
{"x":0.0431,"y":1.232,"text":"Increasing Time"},
{"x":0.0163,"y":0.805,"text":"Temperature"},
{"x":0.061,"y":0.414,"text":"Region 1: Exhibiting"},
{"x":0.061,"y":0.325,"text":"Temperature"},
{"x":0.061,"y":0.235,"text":"Dependence"},
{"x":0.009,"y":0.119,"text":"Increasing Time"}
]
},
"layer":[
{"data":{"name":"curves"},
 "mark":{"type":"line","strokeWidth":1.1},
 "encoding":{
  "x":{"field":"x","type":"quantitative","scale":{"domain":[-0.01,0.09],"nice":false,"zero":false},
       "axis":{"orient":"bottom","values":[-0.01,0,0.01,0.02,0.03,0.04,0.05,0.06,0.07,0.08,0.09],"labelExpr":"replace(format(datum.value,'~g'),'\u2212','-')","domain":false,"grid":false,"tickSize":-8,"tickColor":"black","tickWidth":1,"labelPadding":14,"labelFont":"Liberation Serif","labelFontSize":23,"labelColor":"black","labelFlush":false,"labelOverlap":false,"title":"Intensity, I (V)","titleFont":"Liberation Serif","titleFontSize":23,"titleFontWeight":"normal","titleColor":"black","titlePadding":11}},
  "y":{"field":"y","type":"quantitative","scale":{"domain":[-0.15,1.6],"nice":false,"zero":false},
       "axis":{"orient":"left","values":[0,0.2,0.4,0.6,0.8,1,1.2,1.4,1.6],"labelExpr":"format(datum.value,'~g')","domain":false,"grid":false,"tickSize":-8,"tickColor":"black","tickWidth":1,"labelPadding":14,"labelFont":"Liberation Serif","labelFontSize":23,"labelColor":"black","labelFlush":false,"labelOverlap":false,"title":"Integrated Intensity,  Ψ (V-μs)","titleFont":"Liberation Serif","titleFontSize":23,"titleFontWeight":"normal","titleColor":"black","titlePadding":15}},
  "color":{"field":"t","type":"nominal","scale":{"domain":["23°C","30°C","35°C","40°C","45°C","50°C","55°C","60°C"],"range":["#0000ff","#ff0000","#800080","#00ff00","#ffff00","#000000","#00ffff","#ff00ff"]},
       "legend":{"orient":"top-right","offset":10,"title":null,"symbolType":"M-3.6,0L3.6,0","symbolSize":400,"symbolStrokeWidth":1,"symbolOffset":29,"labelOffset":34,"labelFont":"Liberation Serif","labelFontSize":24,"labelColor":"black","strokeColor":"black","fillColor":"white","padding":10,"rowPadding":9}},
  "order":{"field":"i","type":"quantitative"}
 }},
{"data":{"name":"arrows"},
 "mark":{"type":"rule","color":"black","strokeWidth":1},
 "encoding":{
  "x":{"field":"x","type":"quantitative","scale":{"domain":[-0.01,0.09],"nice":false,"zero":false},
       "axis":{"orient":"top","values":[-0.01,0,0.01,0.02,0.03,0.04,0.05,0.06,0.07,0.08,0.09],"labels":false,"domain":false,"grid":false,"tickSize":-8,"tickColor":"black","title":null}},
  "y":{"field":"y","type":"quantitative","scale":{"domain":[-0.15,1.6],"nice":false,"zero":false},
       "axis":{"orient":"right","values":[0,0.2,0.4,0.6,0.8,1,1.2,1.4,1.6],"labels":false,"domain":false,"grid":false,"tickSize":-8,"tickColor":"black","title":null}},
  "x2":{"field":"x2"},"y2":{"field":"y2"}
 }},
{"data":{"name":"arrows"},"transform":[{"filter":"datum.dir=='down'"}],
 "mark":{"type":"point","shape":"M0,0L0.65,2L0,1.45L-0.65,2Z","filled":true,"color":"black","opacity":1,"size":676,"angle":180,"strokeWidth":0},
 "encoding":{"x":{"field":"x2","type":"quantitative","scale":{"domain":[-0.01,0.09],"nice":false,"zero":false},"axis":null},"y":{"field":"y2","type":"quantitative","scale":{"domain":[-0.15,1.6],"nice":false,"zero":false},"axis":null}}},
{"data":{"name":"arrows"},"transform":[{"filter":"datum.dir=='up'"}],
 "mark":{"type":"point","shape":"M0,0L0.65,2L0,1.45L-0.65,2Z","filled":true,"color":"black","opacity":1,"size":676,"angle":0,"strokeWidth":0},
 "encoding":{"x":{"field":"x2","type":"quantitative","scale":{"domain":[-0.01,0.09],"nice":false,"zero":false},"axis":null},"y":{"field":"y2","type":"quantitative","scale":{"domain":[-0.15,1.6],"nice":false,"zero":false},"axis":null}}},
{"data":{"name":"arrows"},"transform":[{"filter":"datum.dir=='left'"}],
 "mark":{"type":"point","shape":"M0,0L0.65,2L0,1.45L-0.65,2Z","filled":true,"color":"black","opacity":1,"size":676,"angle":270,"strokeWidth":0},
 "encoding":{"x":{"field":"x2","type":"quantitative","scale":{"domain":[-0.01,0.09],"nice":false,"zero":false},"axis":null},"y":{"field":"y2","type":"quantitative","scale":{"domain":[-0.15,1.6],"nice":false,"zero":false},"axis":null}}},
{"data":{"name":"arrows"},"transform":[{"filter":"datum.dir=='right'"}],
 "mark":{"type":"point","shape":"M0,0L0.65,2L0,1.45L-0.65,2Z","filled":true,"color":"black","opacity":1,"size":676,"angle":90,"strokeWidth":0},
 "encoding":{"x":{"field":"x2","type":"quantitative","scale":{"domain":[-0.01,0.09],"nice":false,"zero":false},"axis":null},"y":{"field":"y2","type":"quantitative","scale":{"domain":[-0.15,1.6],"nice":false,"zero":false},"axis":null}}},
{"data":{"name":"arrows"},"transform":[{"filter":"datum.dir=='diag'"}],
 "mark":{"type":"point","shape":"M0,0L0.65,2L0,1.45L-0.65,2Z","filled":true,"color":"black","opacity":1,"size":676,"angle":212,"strokeWidth":0},
 "encoding":{"x":{"field":"x2","type":"quantitative","scale":{"domain":[-0.01,0.09],"nice":false,"zero":false},"axis":null},"y":{"field":"y2","type":"quantitative","scale":{"domain":[-0.15,1.6],"nice":false,"zero":false},"axis":null}}},
{"data":{"name":"labels"},
 "mark":{"type":"text","align":"left","baseline":"middle","font":"Liberation Serif","fontSize":24,"color":"black"},
 "encoding":{"x":{"field":"x","type":"quantitative","scale":{"domain":[-0.01,0.09],"nice":false,"zero":false},"axis":null},"y":{"field":"y","type":"quantitative","scale":{"domain":[-0.15,1.6],"nice":false,"zero":false},"axis":null},"text":{"field":"text"}}}
],
"resolve":{"axis":{"x":"independent","y":"independent"}}
}
